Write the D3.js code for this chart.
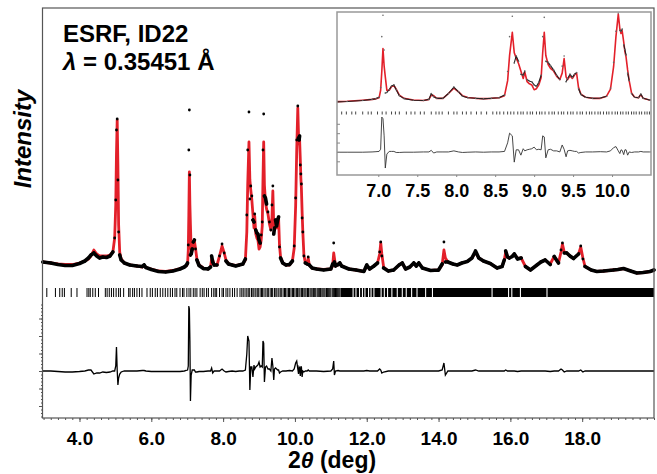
<!DOCTYPE html>
<html>
<head>
<meta charset="utf-8">
<script src="https://cdn.jsdelivr.net/npm/d3@7"></script>
<style>
body { margin: 0; background: #fff; }
svg text { font-family: "Liberation Sans", Arial, sans-serif; font-weight: bold; }
</style>
</head>
<body>
<svg id="drawing_region" width="657" height="474"></svg>
<script>
const twoTheta = [2.98, 3.20, 3.40, 3.60, 3.80, 4.00, 4.15, 4.25, 4.32, 4.40, 4.48, 4.56, 4.65, 4.75, 4.85, 4.93, 4.98,
    5.01, 5.03, 5.05, 5.07, 5.09, 5.12, 5.16, 5.25, 5.40, 5.60, 5.75, 5.80, 5.85, 6.00, 6.20, 6.40, 6.60, 6.80, 6.92, 6.97,
    7.01, 7.03, 7.045, 7.06, 7.075, 7.09, 7.11, 7.14, 7.17, 7.20, 7.23, 7.27, 7.33, 7.45, 7.58, 7.65, 7.68, 7.71, 7.75, 7.83,
    7.90, 7.97, 8.03, 8.08, 8.15, 8.25, 8.35, 8.45, 8.55, 8.62, 8.66, 8.685, 8.72, 8.745, 8.77, 8.80, 8.83, 8.86, 8.88, 8.91,
    8.94, 8.97, 9.00, 9.03, 9.06, 9.09, 9.11, 9.13, 9.15, 9.18, 9.21, 9.25, 9.29, 9.33, 9.36, 9.385, 9.41, 9.43, 9.46, 9.49,
    9.52, 9.545, 9.57, 9.60, 9.66, 9.75, 9.85, 9.93, 9.98, 10.02, 10.05, 10.08, 10.10, 10.115, 10.13, 10.15, 10.165, 10.18,
    10.20, 10.22, 10.25, 10.29, 10.34, 10.37, 10.40, 10.48, 10.60, 10.80, 11.00, 11.05, 11.08, 11.10, 11.13, 11.20, 11.25,
    11.30, 11.50, 11.70, 11.92, 12.00, 12.08, 12.20, 12.30, 12.36, 12.39, 12.42, 12.47, 12.60, 12.75, 12.90, 12.99, 13.08,
    13.20, 13.31, 13.38, 13.45, 13.55, 13.78, 14.00, 14.10, 14.15, 14.19, 14.26, 14.40, 14.52, 14.65, 14.80, 14.93, 15.03,
    15.12, 15.25, 15.44, 15.63, 15.77, 15.83, 15.87, 15.92, 15.97, 16.05, 16.11, 16.20, 16.30, 16.42, 16.56, 16.74, 16.85,
    16.97, 17.11, 17.22, 17.34, 17.41, 17.45, 17.50, 17.57, 17.66, 17.76, 17.90, 17.96, 18.02, 18.08, 18.25, 18.41, 18.60,
    18.87, 19.00, 19.15, 19.35, 19.52, 19.70, 19.89, 20.00];

const yCalc = [1800, 1700, 1600, 1550, 1550, 1700, 1900, 2100, 2400, 3000, 2600, 2400, 2400, 2400, 2500, 2800, 4200,
    7500, 12600, 16000, 11400, 5500, 2800, 2100, 1700, 1500, 1400, 1300, 1450, 1250, 1100, 900, 850, 950, 1150, 1300, 1400,
    1600, 3000, 6500, 10800, 7500, 5500, 3000, 3000, 3700, 3900, 3200, 2100, 1500, 1200, 1100, 1300, 2100, 2000, 1500, 1500,
    2400, 3400, 2700, 2000, 1650, 1500, 1450, 1500, 1600, 2000, 4800, 9500, 13800, 10000, 9000, 8000, 6600, 5200, 6400, 4600,
    4200, 4000, 3100, 3300, 4000, 5400, 10000, 13800, 9500, 7800, 7100, 6600, 5600, 5000, 6200, 8900, 5500, 5000, 5700, 5200,
    5900, 6200, 3500, 2300, 1700, 1500, 1500, 1900, 3200, 7400, 13000, 17200, 14500, 13600, 14100, 12000, 10200, 9200,
    6800, 4800, 2500, 1700, 1600, 2200, 1500, 1200, 1100, 1050, 1100, 1400, 2700, 2200, 1400, 1500, 1700,
    1400, 1100, 1000, 850, 1450, 1100, 1400, 1700, 2600, 3700, 2600, 1300, 900, 1000, 1500, 1700, 1100,
    1300, 1700, 1400, 1700, 1200, 950, 1000, 1500, 3000, 2200, 1800, 1600, 1500, 1700, 1850, 2200, 2800,
    2200, 1900, 1650, 1200, 1350, 2000, 2800, 2300, 2200, 2350, 2600, 2150, 2200, 1350, 1000, 1500, 1800,
    2000, 1600, 2350, 1700, 2800, 3600, 2800, 2700, 2400, 2150, 2600, 3300, 2200, 1350, 1000, 850, 900,
    1000, 1050, 1150, 900, 700, 750, 850, 1000];

const yObs = [1800, 1700, 1550, 1450, 1450, 1650, 1900, 2200, 2500, 2700, 2400, 2200, 2300, 2250, 2400, 2800, 4200,
    8000, 15000, 16100, 10000, 4800, 2500, 2000, 1700, 1500, 1400, 1350, 1500, 1250, 1050, 850, 800, 900, 1100, 1300, 1450,
    1700, 3500, 13000, 17000, 10500, 2500, 2600, 3100, 3800, 4000, 3100, 2000, 1450, 1150, 1100, 1300, 2400, 1800, 1500, 1500,
    2400, 3600, 2700, 1900, 1600, 1500, 1400, 1500, 1600, 2100, 6500, 13000, 16800, 8100, 9400, 8400, 6000, 5800, 6600, 5000,
    4700, 4600, 4000, 3700, 4500, 5800, 13000, 16600, 8400, 8200, 7600, 6800, 5800, 5000, 7500, 9400, 4600, 5200, 6000, 5400,
    6000, 6300, 3300, 2200, 1700, 1500, 1550, 1900, 3400, 8200, 14000, 17400, 14200, 14000, 14400, 11500, 10600, 9600,
    6200, 4800, 2400, 1700, 1600, 2300, 1500, 1200, 1100, 1000, 1100, 1600, 3700, 1800, 1400, 1550, 1700,
    1400, 1100, 1000, 850, 1500, 1100, 1400, 1700, 2800, 3800, 2400, 1200, 900, 1000, 1500, 1700, 1100,
    1300, 1700, 1400, 1700, 1200, 950, 1000, 1600, 3800, 1800, 1800, 1600, 1500, 1700, 1850, 2200, 2900,
    2200, 1900, 1650, 1200, 1350, 2000, 2900, 2300, 2200, 2350, 2600, 2100, 2200, 1350, 1000, 1500, 1800,
    2000, 1550, 2350, 1700, 3000, 3700, 2700, 2700, 2400, 2150, 2600, 3400, 2100, 1350, 1000, 850, 900,
    1000, 1050, 1150, 900, 700, 750, 850, 1000];

// Bragg reflection positions (resolved ones) and ranges where they merge into a solid band
const reflections = [3.09, 3.33, 3.45, 3.52, 3.58, 3.77, 3.93, 4.21, 4.26, 4.30, 4.37, 4.44, 4.53, 4.72, 4.77, 4.83,
    4.89, 4.95, 5.02, 5.09, 5.14, 5.23, 5.37, 5.41, 5.48, 5.53, 5.60, 5.67, 5.74, 5.88, 5.97, 6.03, 6.11, 6.17, 6.25, 6.32,
    6.39, 6.46, 6.53, 6.59, 6.66, 6.71, 6.80, 6.87, 6.91, 6.99, 7.05, 7.10, 7.17, 7.22, 7.27, 7.36, 7.42, 7.47, 7.54, 7.59,
    7.68, 7.74, 7.78, 7.82, 7.90, 7.97, 8.01, 8.08, 8.13, 8.19, 8.26, 8.32, 8.39, 8.47, 8.52, 8.56, 8.61, 8.66, 8.70, 8.74,
    8.79, 8.83, 8.86, 8.91, 8.95, 8.98, 9.03, 9.07, 9.10, 9.14, 9.19, 9.23, 9.26, 9.31, 9.35, 9.38, 9.43, 9.47, 9.50, 9.55,
    9.59, 9.62, 9.67, 9.71, 9.74, 9.78, 9.82, 9.85, 9.89, 9.93, 9.96, 10.00, 10.04, 10.07, 10.11, 10.14, 10.18, 10.21,
    10.25, 10.28, 10.31, 10.35, 10.38, 10.42, 10.45, 10.48, 10.52, 10.55, 10.58, 10.62, 10.65, 10.68, 10.71, 10.75, 10.78,
    10.81, 10.84, 10.88, 10.91, 10.94, 10.97, 11.00, 11.04, 11.07, 11.10, 11.13, 11.16, 11.19, 11.22, 11.25];

const reflectionBands = [[11.27, 11.605], [11.635, 11.685], [11.715, 11.785], [11.815, 11.865], [11.895, 11.935],
    [11.965, 12.035], [12.065, 12.105], [12.135, 12.185], [12.215, 12.385], [12.415, 12.475], [12.505, 12.565],
    [12.595, 12.685], [12.715, 12.835], [12.865, 12.975], [13.005, 13.085], [13.115, 13.235], [13.265, 13.385],
    [13.415, 13.625], [13.655, 13.815], [13.845, 15.475], [15.505, 15.935], [15.965, 16.025], [16.055, 16.265],
    [16.295, 17.005], [17.035, 20.0]];

const xTicksMain = [4, 6, 8, 10, 12, 14, 16, 18];
const xTicksInset = [7.0, 7.5, 8.0, 8.5, 9.0, 9.5, 10.0];
const diffTicksMain = [-3500, -1750, 0, 1750, 3500, 5250];
const diffTicksInset = [-1750, 0, 1750, 3500, 5250];

const data = twoTheta.map((t, i) => ({ t: t, calc: yCalc[i], obs: yObs[i], diff: yObs[i] - yCalc[i] }));

const svg = d3.select('#drawing_region');
const red = '#e3202a';

// main plot
const mainBox = { left: 42.5, right: 654, top: 8, bottom: 418 };
const x = d3.scaleLinear().domain([2.97, 20]).range([mainBox.left, mainBox.right]);
const y = d3.scaleLinear().domain([-13800, 27200]).range([mainBox.bottom, mainBox.top]);
const mainOffset = -9100;
const yDiff = d3.scaleLinear().domain(y.domain().map(v => v - mainOffset)).range(y.range());

function drawProfile(g, pts, xs, ys, yd, opt) {
    const calcLine = d3.line().x(d => xs(d.t)).y(d => ys(d.calc));
    g.append('path').datum(pts)
        .attr('d', calcLine)
        .attr('fill', 'none')
        .attr('stroke', red)
        .attr('stroke-width', opt.calcWidth)
        .attr('stroke-linejoin', 'round');

    // observed points: joined only where the profile is flat enough, like a dense dotted band
    let segs = '';
    for (let i = 1; i < pts.length; i++) {
        const x0 = xs(pts[i - 1].t), y0 = ys(pts[i - 1].obs);
        const x1 = xs(pts[i].t), y1 = ys(pts[i].obs);
        if (Math.abs(y1 - y0) < opt.maxStep) segs += `M${x0},${y0}L${x1},${y1}`;
    }
    g.append('path')
        .attr('d', segs)
        .attr('fill', 'none')
        .attr('stroke', opt.obsColor)
        .attr('stroke-width', opt.obsWidth)
        .attr('stroke-linecap', 'round');

    g.selectAll('circle.obs').data(pts).enter()
        .append('circle')
        .attr('class', 'obs')
        .attr('cx', d => xs(d.t))
        .attr('cy', d => ys(d.obs))
        .attr('r', opt.dotR)
        .attr('fill', opt.dotColor);

    const diffLine = d3.line().x(d => xs(d.t)).y(d => yd(d.diff));
    g.append('path').datum(pts)
        .attr('d', diffLine)
        .attr('fill', 'none')
        .attr('stroke', opt.diffColor)
        .attr('stroke-width', opt.diffWidth);
}

const mainG = svg.append('g');
drawProfile(mainG, data, x, y, yDiff, {
    calcWidth: 2.8, obsWidth: 3.6, obsColor: '#000', maxStep: 7, dotR: 1.4, dotColor: '#000',
    diffColor: '#000', diffWidth: 1.3
});

// reflection markers
mainG.selectAll('line.refl').data(reflections).enter()
    .append('line')
    .attr('x1', d => x(d)).attr('x2', d => x(d))
    .attr('y1', 288).attr('y2', 297)
    .attr('stroke', '#000').attr('stroke-width', 1);
mainG.selectAll('rect.band').data(reflectionBands).enter()
    .append('rect')
    .attr('x', d => x(d[0]))
    .attr('width', d => x(d[1]) - x(d[0]))
    .attr('y', 288).attr('height', 9)
    .attr('fill', '#000');

// frame and axes
svg.append('rect')
    .attr('x', mainBox.left).attr('y', mainBox.top)
    .attr('width', mainBox.right - mainBox.left).attr('height', mainBox.bottom - mainBox.top)
    .attr('fill', 'none').attr('stroke', '#555').attr('stroke-width', 1.2);

const xMinor = svg.append('g')
    .attr('transform', `translate(0, ${mainBox.bottom})`)
    .call(d3.axisBottom(x).tickValues(d3.range(3, 20.01, 0.2)).tickSize(2).tickFormat(''));
const xMajor = svg.append('g')
    .attr('transform', `translate(0, ${mainBox.bottom})`)
    .call(d3.axisBottom(x).tickValues(xTicksMain).tickSize(4).tickPadding(10).tickFormat(d3.format('.1f')));
const yMinor = svg.append('g')
    .attr('transform', `translate(${mainBox.left}, 0)`)
    .call(d3.axisLeft(yDiff).tickValues(d3.range(-4550, 6700, 350)).tickSize(1.5).tickFormat(''));
const yMajor = svg.append('g')
    .attr('transform', `translate(${mainBox.left}, 0)`)
    .call(d3.axisLeft(yDiff).tickValues(diffTicksMain).tickSize(3.5).tickFormat(''));
[xMinor, xMajor, yMinor, yMajor].forEach(a => {
    a.select('.domain').remove();
    a.selectAll('line').attr('stroke', '#555');
});
xMajor.selectAll('text').attr('font-size', 19).attr('fill', '#000')
    .style('font-family', '"Liberation Sans", Arial, sans-serif').style('font-weight', 'bold');

// inset
const inBox = { left: 337, right: 651, top: 12, bottom: 175 };
const xIn = d3.scaleLinear().domain([6.47, 10.5]).range([inBox.left, inBox.right]);
const yIn = d3.scaleLinear().domain([-12800, 17600]).range([inBox.bottom, inBox.top]);
const insetOffset = -8500;
const yInDiff = d3.scaleLinear().domain(yIn.domain().map(v => v - insetOffset)).range(yIn.range());

svg.append('rect')
    .attr('x', inBox.left).attr('y', inBox.top)
    .attr('width', inBox.right - inBox.left).attr('height', inBox.bottom - inBox.top)
    .attr('fill', '#fff');

svg.append('clipPath').attr('id', 'inclip')
    .append('rect')
    .attr('x', inBox.left).attr('y', inBox.top)
    .attr('width', inBox.right - inBox.left).attr('height', inBox.bottom - inBox.top);

const inG = svg.append('g').attr('clip-path', 'url(#inclip)');
const inData = data.filter(d => d.t >= 6.3 && d.t <= 10.7);
drawProfile(inG, inData, xIn, yIn, yInDiff, {
    calcWidth: 1.6, obsWidth: 1.1, obsColor: '#222', maxStep: 8, dotR: 0.8, dotColor: '#666',
    diffColor: '#333', diffWidth: 0.9
});
inG.selectAll('line.refl').data(reflections.filter(r => r > 6.47 && r < 10.5)).enter()
    .append('line')
    .attr('x1', d => xIn(d)).attr('x2', d => xIn(d))
    .attr('y1', 111.5).attr('y2', 114.5)
    .attr('stroke', '#444').attr('stroke-width', 1);

svg.append('rect')
    .attr('x', inBox.left).attr('y', inBox.top)
    .attr('width', inBox.right - inBox.left).attr('height', inBox.bottom - inBox.top)
    .attr('fill', 'none').attr('stroke', '#999').attr('stroke-width', 1.5);

const xInAxis = svg.append('g')
    .attr('transform', `translate(0, ${inBox.bottom})`)
    .call(d3.axisBottom(xIn).tickValues(xTicksInset).tickSize(2).tickPadding(7).tickFormat(d3.format('.1f')));
const yInAxis = svg.append('g')
    .attr('transform', `translate(${inBox.left}, 0)`)
    .call(d3.axisLeft(yInDiff).tickValues(diffTicksInset).tickSize(-3).tickFormat(''));
[xInAxis, yInAxis].forEach(a => {
    a.select('.domain').remove();
    a.selectAll('line').attr('stroke', '#888');
});
xInAxis.selectAll('text').attr('font-size', 18).attr('fill', '#000')
    .style('font-family', '"Liberation Sans", Arial, sans-serif').style('font-weight', 'bold');

// texts
svg.append('text').attr('x', 63).attr('y', 42).attr('font-size', 24).text('ESRF, ID22');
const lam = svg.append('text').attr('x', 63).attr('y', 70).attr('font-size', 24);
lam.append('tspan').attr('font-style', 'italic').text('λ');
lam.append('tspan').text(' = 0.35451 Å');

svg.append('text')
    .attr('transform', 'translate(31, 139) rotate(-90)')
    .attr('text-anchor', 'middle')
    .attr('font-size', 24)
    .attr('font-style', 'italic')
    .text('Intensity');

const xl = svg.append('text').attr('x', 332).attr('y', 468).attr('text-anchor', 'middle').attr('font-size', 23);
xl.append('tspan').text('2');
xl.append('tspan').attr('font-style', 'italic').text('θ');
xl.append('tspan').text(' (deg)');
</script>
</body>
</html>
